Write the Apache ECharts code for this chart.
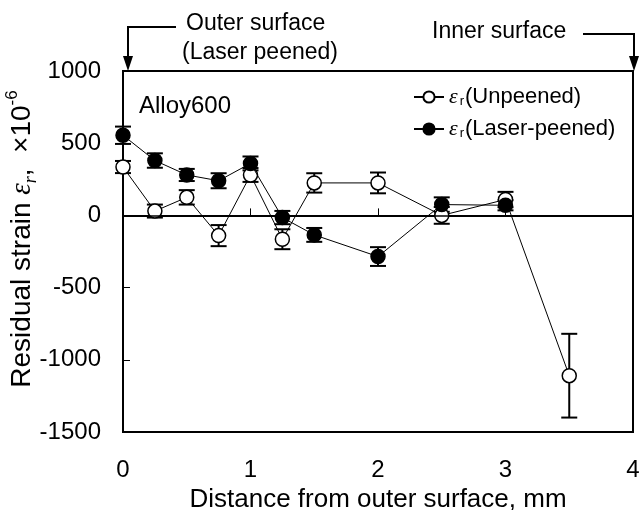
<!DOCTYPE html>
<html>
<head>
<meta charset="utf-8">
<script src="https://cdn.jsdelivr.net/npm/echarts@6/dist/echarts.min.js"></script>
<style>
  html, body { margin: 0; padding: 0; background: #fff; }
  #chart { width: 640px; height: 510px; }
</style>
</head>
<body>
<div id="chart"></div>
<script>
// distance from outer surface (mm) and residual strain (x10^-6)
const distUnpeened = [0, 0.25, 0.5, 0.75, 1, 1.25, 1.5, 2, 2.5, 3, 3.5];
const strainUnpeened = [335, 30, 125, -140, 280, -165, 225, 225, 0, 110, -1110];
const errUnpeened = [42, 45, 50, 73, 48, 69, 67, 72, 58, 53, 290];

const distPeened = [0, 0.25, 0.5, 0.75, 1, 1.25, 1.5, 2, 2.5, 3];
const strainPeened = [555, 380, 280, 240, 360, -15, -135, -285, 75, 70];
const errPeened = [60, 50, 42, 52, 48, 46, 48, 65, 50, 35];

const seriesNames = ['Unpeened', 'Laser-peened'];

const FONT = 'Liberation Sans, Arial, sans-serif';
const SERIF = 'Liberation Serif, Times New Roman, serif';

const chart = echarts.init(document.getElementById('chart'));

// vertical error bars with caps
function errorBars(xs, ys, es) {
  return {
    type: 'custom',
    silent: true,
    z: 1,
    data: xs.map((x, i) => [x, ys[i] - es[i], ys[i] + es[i]]),
    encode: { x: 0, y: [1, 2] },
    renderItem: (params, api) => {
      const lo = api.coord([api.value(0), api.value(1)]);
      const hi = api.coord([api.value(0), api.value(2)]);
      const w = 8;
      const style = { stroke: '#000', lineWidth: 2 };
      return {
        type: 'group',
        children: [
          { type: 'line', shape: { x1: lo[0], y1: lo[1], x2: hi[0], y2: hi[1] }, style },
          { type: 'line', shape: { x1: lo[0] - w, y1: lo[1], x2: lo[0] + w, y2: lo[1] }, style },
          { type: 'line', shape: { x1: hi[0] - w, y1: hi[1], x2: hi[0] + w, y2: hi[1] }, style }
        ]
      };
    }
  };
}

const option = {
  backgroundColor: '#fff',
  animation: false,
  grid: {
    left: 123, right: 7, top: 71, bottom: 78,
    outerBoundsMode: 'none',
    containLabel: false,
    show: true, borderColor: '#000', borderWidth: 2
  },
  legend: {
    data: seriesNames,
    orient: 'vertical',
    left: 408,
    top: 81,
    itemWidth: 30,
    itemHeight: 14,
    itemGap: 10,
    formatter: name => '{e|ε}{s|r}{t|(' + name + ')}',
    textStyle: {
      color: '#000',
      rich: {
        e: { fontFamily: SERIF, fontStyle: 'italic', fontSize: 22, color: '#000', padding: [0, 2, 0, 0] },
        s: { fontFamily: FONT, fontSize: 13, color: '#000', verticalAlign: 'bottom', padding: [7, 1, 0, 0] },
        t: { fontFamily: FONT, fontSize: 22, color: '#000' }
      }
    }
  },
  xAxis: {
    type: 'value',
    min: 0, max: 4, interval: 1,
    name: 'Distance from outer surface, mm',
    nameLocation: 'middle',
    nameGap: 46,
    nameTextStyle: { fontFamily: FONT, fontSize: 26, color: '#000' },
    axisLine: { lineStyle: { color: '#000', width: 2 } },
    axisTick: { inside: true, length: 7, lineStyle: { color: '#000', width: 1 } },
    axisLabel: { margin: 26, fontFamily: FONT, fontSize: 24, color: '#000' },
    splitLine: { show: false }
  },
  yAxis: {
    type: 'value',
    min: -1500, max: 1000, interval: 500,
    axisLine: { lineStyle: { color: '#000', width: 2 } },
    axisTick: { inside: true, length: 7, lineStyle: { color: '#000', width: 1 } },
    axisLabel: { margin: 22, fontFamily: FONT, fontSize: 24, color: '#000', formatter: v => String(v) },
    splitLine: { show: false }
  },
  graphic: [
    {
      type: 'text', x: 22, y: 239, rotation: Math.PI / 2,
      style: {
        text: '{n|Residual strain }{e|ε}{sub|r}{n|,  ×10}{sup|-6}',
        align: 'center', verticalAlign: 'middle',
        rich: {
          n: { fontFamily: FONT, fontSize: 28, color: '#000', lineHeight: 36 },
          e: { fontFamily: SERIF, fontStyle: 'italic', fontSize: 29, color: '#000', lineHeight: 36 },
          sub: { fontFamily: SERIF, fontStyle: 'italic', fontSize: 18, color: '#000', verticalAlign: 'bottom', lineHeight: 18 },
          sup: { fontFamily: FONT, fontSize: 17, color: '#000', verticalAlign: 'top', lineHeight: 17 }
        }
      }
    },
    {
      type: 'text', x: 139, y: 106,
      style: { text: 'Alloy600', fontFamily: FONT, fontSize: 24, fill: '#000', verticalAlign: 'middle' }
    },
    // outer surface annotation
    {
      type: 'text', x: 186, y: 24,
      style: { text: 'Outer surface', fontFamily: FONT, fontSize: 23, fill: '#000', verticalAlign: 'middle' }
    },
    {
      type: 'text', x: 182, y: 53,
      style: { text: '(Laser peened)', fontFamily: FONT, fontSize: 23, fill: '#000', verticalAlign: 'middle' }
    },
    {
      type: 'polyline',
      shape: { points: [[176, 27], [128, 27], [128, 58]] },
      style: { stroke: '#000', lineWidth: 2, fill: null }
    },
    {
      type: 'polygon',
      shape: { points: [[123, 56], [133, 56], [128, 71]] },
      style: { fill: '#000' }
    },
    // inner surface annotation
    {
      type: 'text', x: 432, y: 32,
      style: { text: 'Inner surface', fontFamily: FONT, fontSize: 23, fill: '#000', verticalAlign: 'middle' }
    },
    {
      type: 'polyline',
      shape: { points: [[583, 34], [634, 34], [634, 58]] },
      style: { stroke: '#000', lineWidth: 2, fill: null }
    },
    {
      type: 'polygon',
      shape: { points: [[629, 56], [639, 56], [634, 71]] },
      style: { fill: '#000' }
    }
  ],
  series: [
    errorBars(distUnpeened, strainUnpeened, errUnpeened),
    errorBars(distPeened, strainPeened, errPeened),
    {
      name: 'Unpeened',
      type: 'line',
      z: 3,
      data: distUnpeened.map((x, i) => [x, strainUnpeened[i]]),
      symbol: 'circle',
      symbolSize: 14,
      lineStyle: { color: '#000', width: 1 },
      itemStyle: { color: '#fff', borderColor: '#000', borderWidth: 1.5 },
      markLine: {
        silent: true,
        symbol: 'none',
        label: { show: false },
        lineStyle: { color: '#000', width: 1.5, type: 'solid' },
        data: [[{ coord: [0, 0] }, { coord: [3.97, 0] }]]
      }
    },
    {
      name: 'Laser-peened',
      type: 'line',
      z: 4,
      data: distPeened.map((x, i) => [x, strainPeened[i]]),
      symbol: 'circle',
      symbolSize: 14,
      lineStyle: { color: '#000', width: 1 },
      itemStyle: { color: '#000', borderColor: '#000', borderWidth: 1.5 }
    }
  ]
};

chart.setOption(option);
</script>
</body>
</html>
